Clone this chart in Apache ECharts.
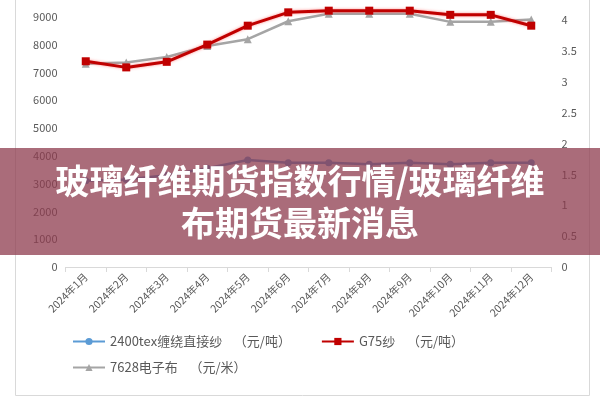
<!DOCTYPE html>
<html>
<head>
<meta charset="utf-8">
<script src="https://cdn.jsdelivr.net/npm/echarts@6/dist/echarts.min.js"></script>
<style>html,body{margin:0;padding:0;background:#fff;}#c{width:600px;height:400px;}</style>
</head>
<body>
<div id="c"></div>
<script>
var categories = ['2024年1月','2024年2月','2024年3月','2024年4月','2024年5月','2024年6月','2024年7月','2024年8月','2024年9月','2024年10月','2024年11月','2024年12月'];
var yarn2400 = [3100, 3150, 3300, 3550, 3850, 3750, 3750, 3700, 3750, 3700, 3750, 3750];
var g75 = [7400, 7180, 7380, 8000, 8680, 9160, 9220, 9220, 9220, 9070, 9070, 8680];
var cloth7628 = [3.29, 3.31, 3.40, 3.58, 3.69, 3.98, 4.10, 4.10, 4.10, 3.97, 3.97, 4.01];
// axes cropped at the top of the picture (the full axes run to 10000 and 4.5)
var leftTicks = {min: 0, max: 9604, interval: 1000};
var rightTicks = {min: 0, max: 4.324, interval: 0.5};
var names = ['2400tex缠绕直接纱    （元/吨）', 'G75纱    （元/吨）', '7628电子布    （元/米）'];
var titleText = '玻璃纤维期货指数行情/玻璃纤维\n布期货最新消息';

var chart = echarts.init(document.getElementById('c'), null, {renderer: 'canvas'});
var labelColor = '#595959';
var font = '"Microsoft YaHei","Noto Sans CJK SC",sans-serif';
function plain(v) { return String(Math.round(v * 1000) / 1000); }
chart.setOption({
  animation: false,
  grid: {left: 65.5, right: 48.5, top: 0, bottom: 133, containLabel: false},
  legend: [
    {data: [names[0], names[1]], left: 67, top: 330, itemWidth: 32, itemHeight: 9, itemGap: 30,
     textStyle: {color: labelColor, fontSize: 13, fontFamily: font}},
    {data: [names[2]], left: 67, top: 356, itemWidth: 32, itemHeight: 9,
     textStyle: {color: labelColor, fontSize: 13, fontFamily: font}}
  ],
  xAxis: {
    type: 'category', data: categories, boundaryGap: true,
    axisLine: {lineStyle: {color: '#D9D9D9'}},
    axisTick: {show: true, length: 5, lineStyle: {color: '#D9D9D9'}},
    axisLabel: {rotate: 45, color: labelColor, fontSize: 10.5, fontFamily: font, margin: 8, interval: 0}
  },
  yAxis: [
    {type: 'value', min: leftTicks.min, max: leftTicks.max, interval: leftTicks.interval, position: 'left',
     axisLine: {show: false}, axisTick: {show: false}, splitLine: {show: false},
     axisLabel: {color: labelColor, fontSize: 11, fontFamily: font, margin: 8, showMaxLabel: false, formatter: plain}},
    {type: 'value', min: rightTicks.min, max: rightTicks.max, interval: rightTicks.interval, position: 'right',
     axisLine: {show: false}, axisTick: {show: false}, splitLine: {show: false},
     axisLabel: {color: labelColor, fontSize: 11, fontFamily: font, margin: 10, showMaxLabel: false, formatter: plain}}
  ],
  series: [
    {name: names[0], type: 'line', yAxisIndex: 0, data: yarn2400, symbol: 'circle', symbolSize: 7,
     lineStyle: {color: '#5B9BD5', width: 2.5}, itemStyle: {color: '#5B9BD5'}},
    {name: names[1], type: 'line', yAxisIndex: 0, data: g75, symbol: 'rect', symbolSize: 8, z: 3,
     lineStyle: {color: '#C00000', width: 3, shadowColor: 'rgba(255,60,60,0.6)', shadowBlur: 3},
     itemStyle: {color: '#C00000'}},
    {name: names[2], type: 'line', yAxisIndex: 1, data: cloth7628, symbol: 'triangle', symbolSize: 8, z: 2,
     lineStyle: {color: '#A5A5A5', width: 2.5}, itemStyle: {color: '#A5A5A5'}}
  ],
  graphic: [
    {type: 'rect', left: 13, top: -5, shape: {width: 574, height: 398}, z: -1,
     style: {fill: 'none', stroke: '#D9D9D9', lineWidth: 1}},
    {type: 'rect', left: 0, top: 148, shape: {width: 600, height: 107}, z: 100,
     style: {fill: 'rgba(141,59,77,0.75)'}},
    {type: 'text', left: 'center', top: 160, z: 101,
     style: {text: titleText, fill: '#ffffff', font: 'bold 34px "Noto Sans CJK SC", sans-serif',
             textAlign: 'center', lineHeight: 42,
             shadowColor: 'rgba(0,0,0,0.3)', shadowBlur: 2}}
  ]
});
</script>
</body>
</html>
